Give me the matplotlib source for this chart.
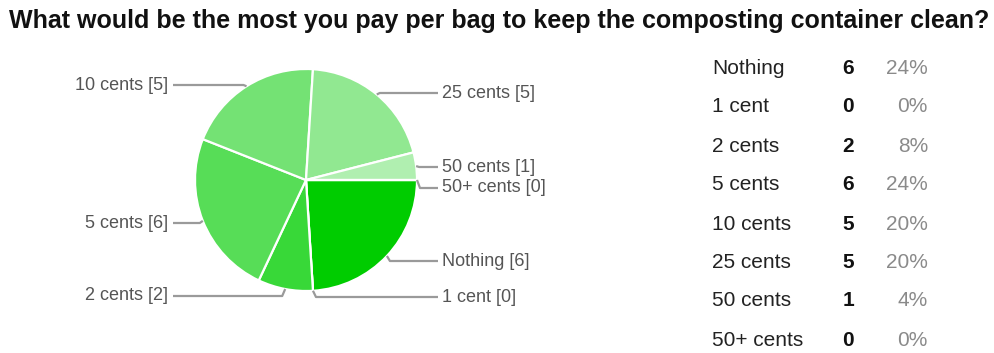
import matplotlib

matplotlib.use("Agg")

import matplotlib.pyplot as plt
import numpy as np

W, H = 995, 353

TITLE = "What would be the most you pay per bag to keep the composting container clean?"
CATEGORIES = ["Nothing", "1 cent", "2 cents", "5 cents", "10 cents",
              "25 cents", "50 cents", "50+ cents"]
COUNTS = [6, 0, 2, 6, 5, 5, 1, 0]
SLICE_COLORS = ["#00cc00", "#1ed31e", "#38d838", "#57dd57", "#74e274",
                "#91e891", "#b0efb0", "#cdf5cd"]

# pie geometry and callout rows, in pixels (y grows downward)
CENTER = (306, 180)
RADIUS = 111
CALLOUT_Y = [261, 297, 296, 223, 85, 93, 167, 188]
RIGHT_TEXT_X = 442
LEFT_TEXT_X = 168
TABLE_Y = [68, 107, 147, 185, 224, 263, 301, 340]

plt.rcParams["font.family"] = ["Liberation Sans", "DejaVu Sans"]

fig = plt.figure(figsize=(W / 100, H / 100), dpi=100)
ax = fig.add_axes([0, 0, 1, 1])

# counterclock in an inverted y axis reads clockwise on screen
wedges, _ = ax.pie(
    COUNTS,
    colors=SLICE_COLORS,
    startangle=0,
    counterclock=True,
    center=CENTER,
    radius=RADIUS,
    wedgeprops={"edgecolor": "white", "linewidth": 1.6},
)
ax.set_xlim(0, W)
ax.set_ylim(H, 0)
ax.set_aspect("equal")
ax.axis("off")

# callouts with leader lines
for w, name, n, ly in zip(wedges, CATEGORIES, COUNTS, CALLOUT_Y):
    mid = np.deg2rad((w.theta1 + w.theta2) / 2)
    px = CENTER[0] + RADIUS * np.cos(mid)
    py = CENTER[1] + RADIUS * np.sin(mid)
    if np.cos(mid) >= 0:
        xs = [px, px + 3, RIGHT_TEXT_X - 4]
        tx, ha = RIGHT_TEXT_X, "left"
    else:
        xs = [px, px - 3, LEFT_TEXT_X + 5]
        tx, ha = LEFT_TEXT_X, "right"
    ax.plot(xs, [py, ly, ly], color="#9a9a9a", lw=1.6, solid_capstyle="butt")
    ax.text(tx, ly, f"{name} [{n}]", ha=ha, va="center", fontsize=13,
            color="#555555")

# summary table
total = sum(COUNTS)
for name, n, ty in zip(CATEGORIES, COUNTS, TABLE_Y):
    ax.text(712, ty, name, ha="left", va="center", fontsize=15, color="#222222")
    ax.text(854, ty, f"{n}", ha="right", va="center", fontsize=15,
            fontweight="bold", color="#111111")
    ax.text(928, ty, f"{round(100 * n / total)}%", ha="right", va="center",
            fontsize=15, color="#8a8a8a")

ax.text(9, 21, TITLE, ha="left", va="center", fontsize=18,
        fontweight="bold", color="#111111")

fig.savefig("out.png", dpi=100, facecolor="white")
